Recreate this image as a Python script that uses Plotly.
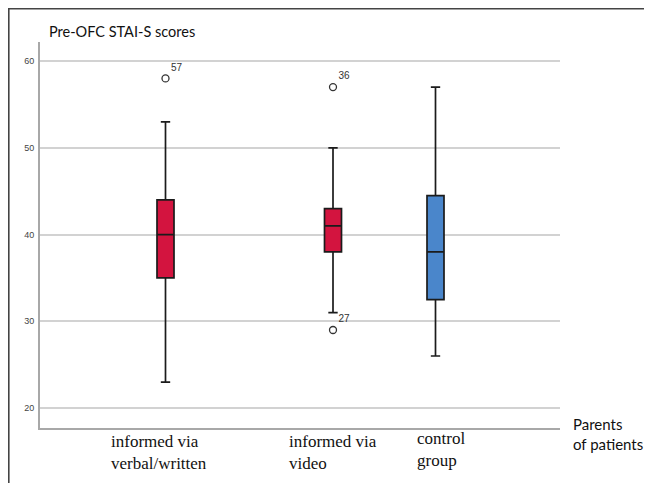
import plotly.graph_objects as go

# ---- data ----
groups = ["informed via verbal/written", "informed via video", "control group"]
group_labels = ["informed via<br>verbal/written", "informed via<br>video", "control<br>group"]
q1 = [35, 38, 32.5]
median = [40, 41, 38]
q3 = [44, 43, 44.5]
lower_whisker = [23, 31, 26]
upper_whisker = [53, 50, 57]
outlier_group = [0, 1, 1]
outlier_values = [58, 57, 29]
outlier_ids = ["57", "36", "27"]
y_ticks = [20, 30, 40, 50, 60]

# ---- layout helpers (page pixel coordinates; the page body adds an 8px offset) ----
OFF = 8
x_pos = [165.5 - OFF, 333 - OFF, 435.5 - OFF]   # horizontal placement of each box
fill_colors = ["#D3143F", "#D3143F", "#4A86CB"]
W, H = 652, 483
L, T = 40 - OFF, 42 - OFF
R = W - (560 - OFF)
B = H - (428 - OFF)
plot_w = W - L - R
plot_h = H - T - B

def px_x(p):
    return (p - OFF - L) / plot_w

def px_y(p):
    return (H - B - (p - OFF)) / plot_h

fig = go.Figure()
for i, g in enumerate(groups):
    fig.add_trace(go.Box(
        name=g,
        x=[x_pos[i]],
        q1=[q1[i]], median=[median[i]], q3=[q3[i]],
        lowerfence=[lower_whisker[i]], upperfence=[upper_whisker[i]],
        width=17,
        whiskerwidth=0.55,
        fillcolor=fill_colors[i],
        line=dict(color="#1b1b1b", width=1.7),
        boxpoints=False,
        showlegend=False,
        hoverinfo="skip",
    ))

fig.add_trace(go.Scatter(
    x=[x_pos[g] for g in outlier_group],
    y=outlier_values,
    mode="markers+text",
    marker=dict(symbol="circle-open", size=7, color="#333333", line=dict(width=1.3)),
    text=outlier_ids,
    textposition="top right",
    textfont=dict(family="Liberation Sans, Arial", size=10, color="#333333"),
    showlegend=False,
    hoverinfo="skip",
))

annotations = [
    dict(text="Pre-OFC STAI-S scores", xref="paper", yref="paper",
         x=px_x(47), y=px_y(32), xanchor="left", yanchor="middle", showarrow=False,
         font=dict(family="Lato, Carlito, sans-serif", size=14.5, color="#111111")),
    dict(text="Parents<br>of patients", xref="paper", yref="paper",
         x=px_x(571), y=px_y(413), xanchor="left", yanchor="top", showarrow=False, align="left",
         font=dict(family="Lato, Carlito, sans-serif", size=15, color="#111111")),
]
label_left = [109, 287, 415]
label_top = [430, 430, 427]
for i, lab in enumerate(group_labels):
    annotations.append(dict(
        text=lab, xref="paper", yref="paper",
        x=px_x(label_left[i]), y=px_y(label_top[i]),
        xanchor="left", yanchor="top", showarrow=False, align="left",
        font=dict(family="Liberation Serif, Times New Roman, serif", size=17, color="#111111"),
    ))

shapes = [
    dict(type="line", xref="paper", yref="paper", x0=px_x(OFF + 0.8), x1=px_x(OFF + 0.8),
         y0=px_y(OFF), y1=px_y(H + OFF), line=dict(color="#444444", width=1.6)),
    dict(type="line", xref="paper", yref="paper", x0=px_x(OFF), x1=px_x(W + OFF),
         y0=px_y(OFF + 0.8), y1=px_y(OFF + 0.8), line=dict(color="#444444", width=1.6)),
]

fig.update_layout(
    width=W, height=H,
    margin=dict(l=L, r=R, t=T, b=B),
    paper_bgcolor="white", plot_bgcolor="white",
    annotations=annotations,
    shapes=shapes,
    xaxis=dict(range=[L, W - R], showgrid=False, zeroline=False, showticklabels=False,
               showline=True, linecolor="#a8a8a8", linewidth=2, fixedrange=True),
    yaxis=dict(range=[17.7, 62.2], tickvals=y_ticks, ticks="", showgrid=True,
               gridcolor="#d2d2d2", gridwidth=1.5, zeroline=False,
               showline=True, linecolor="#a8a8a8", linewidth=2,
               tickfont=dict(family="Liberation Sans, Arial", size=9, color="#444444"),
               ticklabelstandoff=2),
)

fig.write_html("out.html")
